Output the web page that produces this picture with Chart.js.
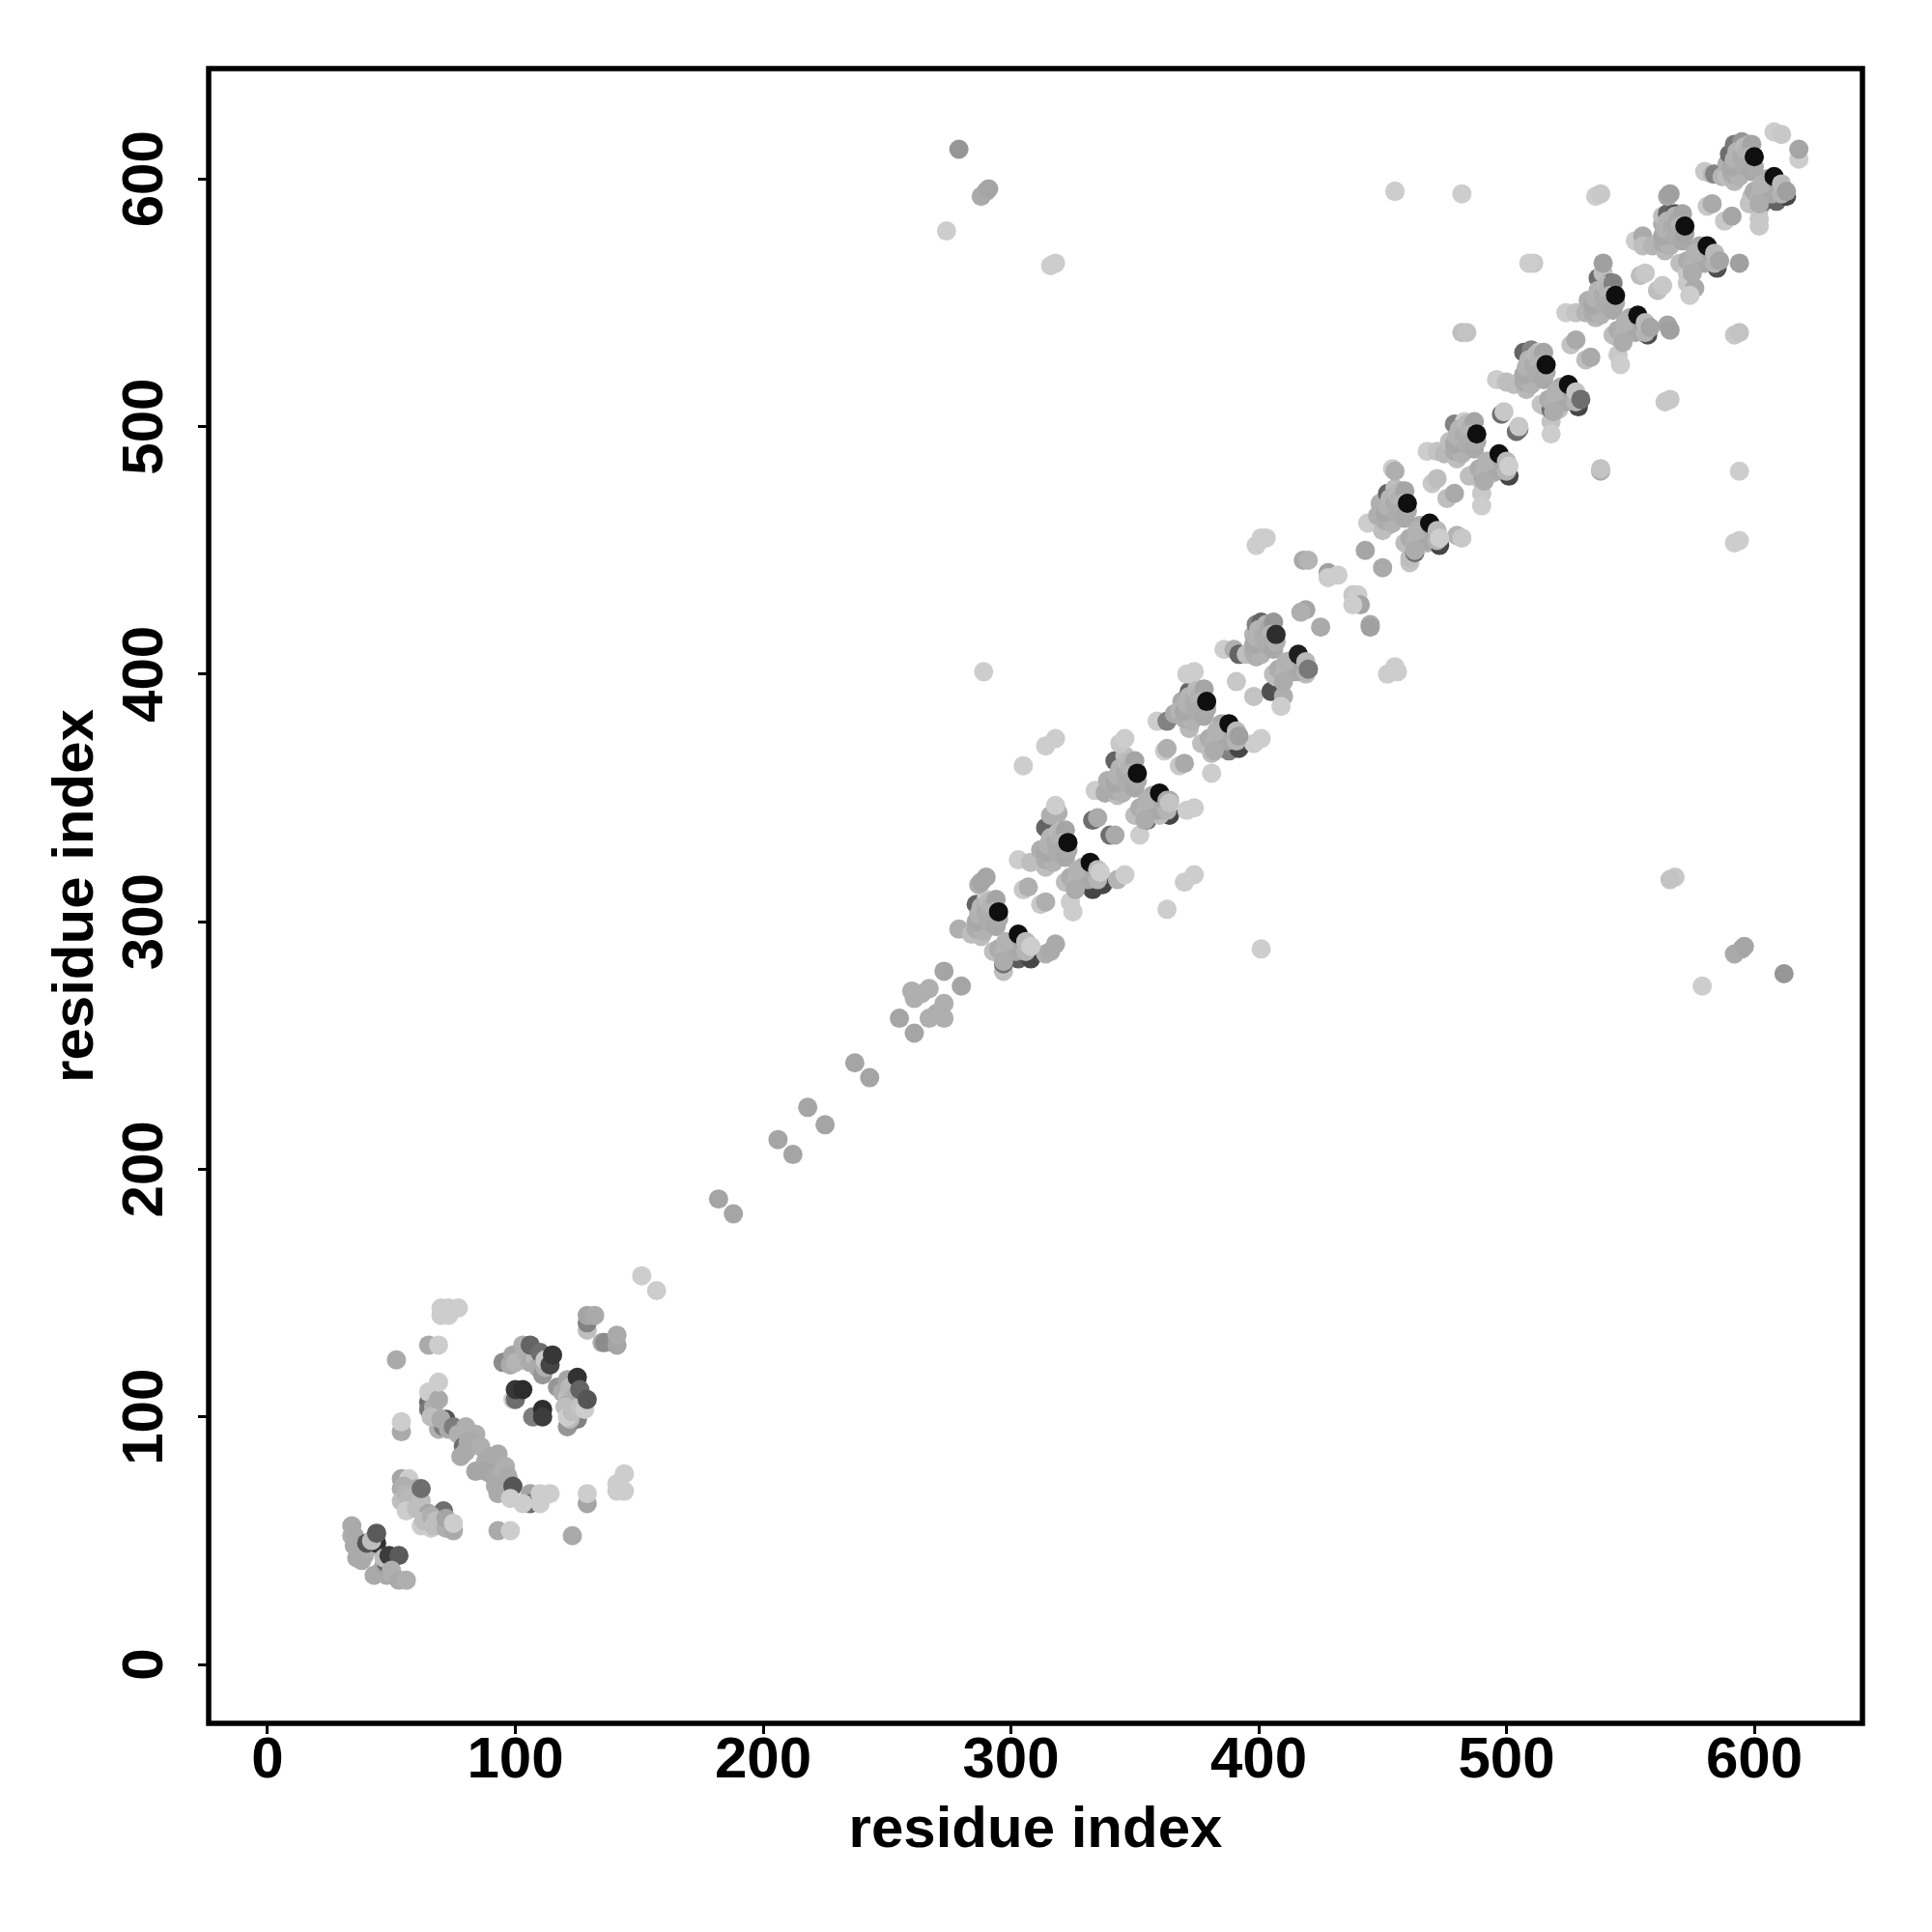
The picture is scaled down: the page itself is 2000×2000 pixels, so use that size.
<!DOCTYPE html>
<html><head><meta charset="utf-8">
<style>html,body{margin:0;padding:0;background:#fff}#w{width:2000px;height:2000px}canvas{display:block}</style>
<script src="https://cdn.jsdelivr.net/npm/chart.js@4"></script>
</head><body><div id="w"><canvas id="c" width="2000" height="2000"></canvas></div>
<script>
// Each contact: [residue x, residue y, grey level]
const xTickValues=[0,100,200,300,400,500,600];
const yTickValues=[0,100,200,300,400,500,600];
const axisTitle="residue index";

const contactsStart=[[34,56,170],[34,52,175],[35,52,170],[35,48,170],[36,43,170],[37,46,170],[39,44,170],[38,42,170],[41,47,175],[42,50,190],[40,49,85],[44,49,50],[42,50,190],[44,53,90],[43,36,170],[45,37,170],[48,36,170],[50,37,175],[47,40,165],[48,41,100],[47,43,190],[49,44,60],[53,44,90],[50,38,175],[53,34,170],[56,34,175]];
const contactsGroup60=[[54,75,165],[57,75,205],[54,71,170],[60,71,175],[55,72,175],[54,66,190],[58,65,85],[56,69,180],[57,67,185],[60,68,185],[62,66,190],[56,62,205],[60,63,190],[62,71,110],[65,58,80],[62,56,205],[66,55,205],[65,61,165],[63,58,190],[71,62,110],[66,60,175],[68,58,190],[70,56,185],[67,56,190],[72,55,175],[75,54,170],[72,59,165],[75,57,205],[93,54,170],[98,54,205],[54,94,170],[54,98,205],[65,129,170],[69,129,205],[52,123,170],[123,52,170]];
const contactsStrand80=[[65,106,110],[65,103,120],[65,110,205],[67,104,175],[69,107,170],[69,114,205],[69,95,175],[66,100,190],[71,96,125],[72,99,85],[70,99,170],[73,95,170],[75,96,125],[77,93,175],[80,96,175],[81,93,175],[84,93,175],[79,88,110],[81,90,170],[82,90,170],[80,86,170],[78,84,170],[86,88,175],[84,78,165],[88,82,170],[90,84,170],[93,85,170],[91,80,170],[96,80,175],[90,77,165],[88,78,165],[92,76,170],[93,69,170],[95,74,105],[95,78,175],[92,72,170],[97,76,170],[96,70,170],[99,72,85],[98,67,205],[106,69,165],[106,65,110],[103,65,205],[110,69,205],[114,69,205],[110,65,205]];
const contactsRing110=[[95,122,140],[98,121,170],[99,125,165],[103,129,175],[103,123,190],[100,122,180],[104,126,175],[106,122,170],[108,124,185],[109,120,170],[111,117,150],[112,120,175],[106,129,100],[110,126,110],[112,123,200],[114,121,70],[115,125,55],[117,112,150],[119,110,170],[121,115,165],[121,108,190],[121,105,170],[122,112,185],[124,108,175],[120,104,190],[121,96,150],[125,99,130],[122,99,185],[121,100,205],[123,102,190],[126,104,195],[125,116,50],[126,111,100],[128,103,205],[129,107,85],[99,107,205],[100,107,110],[100,111,55],[103,111,45],[108,100,205],[107,100,125],[111,103,45],[111,100,60]];
const contactsFar130=[[70,144,205],[73,144,205],[77,144,205],[70,141,205],[73,141,205],[129,135,190],[129,138,130],[129,141,165],[132,141,170],[135,130,170],[136,130,140],[141,129,165],[141,133,170],[129,65,165],[129,69,205],[144,77,205],[141,73,205],[144,70,205],[141,70,205],[151,157,205],[157,151,205]];
const contactsLinker=[[182,188,165],[188,182,165],[206,212,165],[212,206,165],[218,225,165],[225,218,165],[237,243,165],[243,237,165],[255,261,165],[261,255,165],[260,272,175],[264,271,175],[261,269,175],[267,273,175],[273,280,165],[280,274,165],[267,261,175],[270,263,175],[273,267,175],[273,261,175]];
const contactsRepeatJ=[[279,297,175],[284,295,190],[288,294,190],[286,307,100],[290,309,205],[293,308,165],[287,315,175],[290,318,165],[288,316,165],[293,288,190],[297,280,190],[297,283,110],[300,290,170],[303,285,90],[303,290,170],[308,285,70],[308,290,205],[314,287,175],[318,291,170],[316,288,170]];
const contactsRepeatI=[[303,325,205],[308,324,190],[314,322,190],[312,329,175],[314,338,100],[320,337,205],[316,332,190],[316,343,175],[319,344,175],[318,347,205],[305,313,200],[307,314,175],[312,307,200],[314,308,175],[322,316,190],[324,308,205],[325,304,205],[328,316,170],[329,322,170],[333,313,70],[337,315,70],[336,320,205],[343,317,180],[346,319,205]];
const contactsRepeatH=[[334,353,205],[338,352,170],[343,351,190],[339,357,175],[342,365,100],[346,367,190],[349,364,170],[344,361,190],[344,372,200],[346,374,205],[333,341,110],[335,342,170],[340,335,110],[342,335,170],[350,343,190],[352,335,205],[352,343,190],[355,341,110],[357,351,170],[364,343,70],[360,343,190],[364,349,170],[359,348,205],[371,345,205],[374,346,205]];
const contactsRepeatG1=[[305,363,205],[314,371,205],[318,374,205],[363,305,205],[370,316,205],[374,319,205],[359,381,205],[363,381,130],[366,384,170],[369,389,170],[372,393,100],[375,394,190],[377,392,170],[368,385,180],[372,378,185],[362,369,205],[363,370,175],[368,363,200],[370,364,170],[371,400,205],[374,401,205],[377,372,190],[381,368,190],[381,360,205],[384,370,170],[385,380,170],[388,369,130],[392,370,70],[392,374,150],[388,375,205],[398,372,205],[401,374,205]];
const contactsRepeatG2=[[386,410,205],[390,410,175],[392,408,100],[395,408,190],[399,407,175],[398,416,180],[399,420,130],[401,421,100],[403,417,90],[391,397,200],[398,391,195],[406,400,190],[405,393,80],[410,391,175],[409,387,205],[414,406,165],[416,404,40],[420,402,110],[419,400,190],[407,399,190],[419,426,165],[417,425,175],[425,419,170],[418,446,170],[420,446,180],[428,441,160],[428,439,205],[432,440,205],[438,432,200],[440,432,205],[441,428,165],[438,428,205],[445,420,170],[445,419,160],[452,400,205],[455,403,205],[456,401,205],[399,452,205],[401,455,205],[403,455,205],[289,401,205],[401,289,205]];
const contactsRepeatF=[[444,461,205],[448,464,175],[452,460,185],[450,458,190],[449,469,175],[452,473,100],[455,475,190],[458,474,175],[454,469,190],[443,450,165],[450,443,170],[454,483,205],[455,482,175],[470,477,200],[472,479,190],[476,471,190],[479,473,170],[459,453,190],[461,445,195],[461,447,190],[463,449,110],[465,460,170],[468,453,180],[473,452,70],[480,456,180],[482,455,200],[482,538,190],[484,538,195],[538,482,175]];
const contactsRepeatDE=[[468,490,205],[472,490,195],[475,489,185],[480,487,190],[477,494,190],[479,501,130],[483,502,205],[485,497,110],[498,505,110],[499,506,200],[504,498,110],[505,499,110],[505,500,200],[485,480,190],[487,481,190],[490,478,190],[490,473,200],[490,468,205],[493,486,170],[491,479,100],[494,481,190],[501,480,70],[496,519,205],[500,518,190],[503,517,190],[508,515,185],[507,521,190],[507,530,100],[510,531,130],[513,530,205],[511,526,175],[514,509,195],[516,508,195],[518,502,195],[518,497,205],[518,507,110],[522,516,170],[521,507,190],[529,508,70],[538,483,195],[511,566,200],[509,566,205],[564,510,200],[566,511,200],[568,318,200],[566,317,195]];
const contactsRepeatC=[[524,546,205],[528,546,195],[532,546,180],[536,544,185],[533,551,175],[537,560,110],[539,562,190],[542,558,110],[539,566,160],[526,533,195],[528,535,170],[532,527,190],[534,528,170],[543,537,190],[545,536,190],[545,529,200],[546,525,205],[550,544,170],[555,538,190],[557,537,80],[565,541,165],[566,539,160],[536,593,205],[538,594,200],[455,595,205],[482,594,205]];
const contactsRepeatB=[[552,575,205],[555,577,170],[555,573,190],[559,573,180],[564,571,185],[563,577,190],[563,582,170],[563,585,190],[565,586,100],[568,586,80],[570,584,180],[565,593,165],[566,594,160],[554,561,190],[556,562,200],[561,555,190],[563,557,200],[570,566,190],[573,562,200],[573,558,200],[576,556,170],[574,553,205],[578,573,170],[582,568,100],[585,564,80],[594,566,160],[592,537,200],[594,538,195]];
const contactsRepeatA=[[580,603,200],[583,602,185],[584,602,130],[587,601,180],[589,601,190],[592,599,185],[589,606,175],[590,610,110],[592,614,120],[595,615,150],[598,614,180],[594,610,90],[596,607,200],[608,619,205],[611,618,200],[618,608,205],[618,612,165],[581,589,200],[583,590,170],[588,583,200],[591,585,165],[599,593,190],[598,590,195],[602,588,190],[602,584,200],[602,581,200],[604,591,110],[609,591,100],[605,600,170],[613,593,70]];
const contactsOutliers=[[279,612,150],[274,579,205],[288,593,170],[290,595,170],[291,596,165],[318,566,205],[316,565,205],[455,595,205],[594,482,205],[594,454,205],[592,453,205],[592,287,170],[595,289,170],[596,290,165],[612,279,150],[579,274,205]];

const bodyUpperJ=[[286,297,172],[289,296,178],[286,300,168],[287,303,178],[288,306,180],[290,304,172],[291,308,185],[292,306,178],[294,309,165],[293,304,180],[291,300,172],[294,298,168]];
const bodyUpperI=[[314,325,172],[317,324,178],[314,328,168],[315,331,178],[316,334,180],[318,332,172],[319,336,185],[320,334,178],[322,337,165],[321,332,180],[319,328,172],[322,326,168]];
const bodyUpperH=[[342,353,172],[345,352,178],[342,356,168],[343,359,178],[344,362,180],[346,360,172],[347,364,185],[348,362,178],[350,365,165],[349,360,180],[347,356,172],[350,354,168]];
const bodyUpperG1=[[370,382,172],[373,381,178],[370,385,168],[371,388,178],[372,391,180],[374,389,172],[375,393,185],[376,391,178],[378,394,165],[377,389,180],[375,385,172],[378,383,168]];
const bodyUpperG2=[[398,409,172],[401,408,178],[398,412,168],[399,415,178],[400,418,180],[402,416,172],[403,420,178],[404,418,168],[406,421,150],[405,416,180],[403,412,172],[406,410,168]];
const bodyUpperF=[[451,462,172],[454,461,178],[451,465,168],[452,468,178],[453,471,180],[455,469,172],[456,473,185],[457,471,178],[459,474,165],[458,469,180],[456,465,172],[459,463,168]];
const bodyUpperD=[[479,490,172],[482,489,178],[479,493,168],[480,496,178],[481,499,180],[483,497,172],[484,501,185],[485,499,178],[487,502,165],[486,497,180],[484,493,172],[487,491,168]];
const bodyUpperE=[[507,518,172],[510,517,178],[507,521,168],[508,524,178],[509,527,180],[511,525,172],[512,529,185],[513,527,178],[515,530,165],[514,525,180],[512,521,172],[515,519,168]];
const bodyUpperC=[[535,546,172],[538,545,178],[535,549,168],[536,552,178],[537,555,180],[539,553,172],[540,557,185],[541,555,178],[543,558,130],[542,553,180],[540,549,172],[543,547,168]];
const bodyUpperB=[[563,574,172],[566,573,178],[563,577,168],[564,580,178],[565,583,180],[567,581,172],[568,585,178],[569,583,168],[571,586,165],[570,581,180],[568,577,172],[571,575,168]];
const bodyUpperA=[[591,602,172],[594,601,178],[591,605,168],[592,608,178],[593,611,180],[595,609,172],[596,613,185],[597,611,178],[599,614,165],[598,609,180],[596,605,172],[599,603,168]];

const bodyLowerJ=[[295,289,172],[297,287,178],[299,288,172],[301,290,178],[298,290,180],[302,288,168],[305,291,172],[306,288,180],[297,284,172],[298,292,178],[304,293,165]];
const bodyLowerI=[[324,318,172],[326,316,178],[328,317,172],[330,319,178],[327,319,180],[331,317,168],[334,320,172],[335,317,180],[326,313,172],[327,321,178],[333,322,165]];
const bodyLowerH=[[352,346,172],[354,344,178],[356,345,172],[358,347,178],[355,347,180],[359,345,168],[362,348,172],[363,345,180],[354,341,172],[355,349,178],[361,350,165]];
const bodyLowerG1=[[380,374,172],[382,372,178],[384,373,172],[386,375,178],[383,375,180],[387,373,168],[390,376,172],[391,373,180],[382,369,172],[383,377,178],[389,378,165]];
const bodyLowerG2=[[408,402,172],[410,400,178],[412,401,172],[414,403,178],[411,403,180],[415,401,168],[418,404,172],[419,401,180],[410,397,172],[411,405,178],[417,406,165]];
const bodyLowerF=[[461,455,172],[463,453,178],[465,454,172],[467,456,178],[464,456,180],[468,454,168],[471,457,172],[472,454,180],[463,450,172],[464,458,178],[470,459,165]];
const bodyLowerD=[[489,483,172],[491,481,178],[493,482,172],[495,484,178],[492,484,180],[496,482,168],[499,485,172],[500,482,180],[491,478,172],[492,486,178],[498,487,165]];
const bodyLowerE=[[517,511,172],[519,509,178],[521,510,172],[523,512,178],[520,512,180],[524,510,168],[527,513,172],[528,510,180],[519,506,172],[520,514,178],[526,515,165]];
const bodyLowerC=[[545,539,172],[547,537,178],[549,538,172],[551,540,178],[548,540,180],[552,538,168],[555,541,172],[556,538,180],[547,534,172],[548,542,178],[554,543,165]];
const bodyLowerB=[[573,567,172],[575,565,178],[577,566,172],[579,568,178],[576,568,180],[580,566,168],[583,569,172],[584,566,180],[575,562,172],[576,570,178],[582,571,165]];
const bodyLowerA=[[600,595,172],[602,593,178],[604,594,172],[606,596,178],[603,596,180],[607,594,168],[610,597,172],[611,594,180],[602,590,172],[603,598,178],[609,599,165]];

const contactsStrongest=[[295,301,170],[295,304,15],[303,295,15],[323,329,170],[323,332,15],[332,324,15],[351,357,170],[351,360,15],[360,352,15],[379,386,170],[379,389,15],[388,380,15],[407,413,175],[407,416,45],[416,408,30],[460,466,170],[460,469,15],[469,461,15],[488,494,170],[488,497,15],[497,489,15],[516,522,170],[516,525,15],[525,517,15],[544,550,170],[544,553,15],[553,545,15],[572,578,165],[572,581,15],[581,573,15],[600,605,170],[600,609,15],[608,601,15]];
const contactsOverStrongest=[[306,292,185],[308,290,205],[335,321,185],[336,320,205],[363,349,170],[364,348,195],[391,377,185],[392,375,160],[419,405,185],[420,402,120],[472,458,185],[473,455,205],[500,486,185],[501,484,205],[528,514,195],[530,511,110],[556,542,185],[558,540,165],[584,570,185],[586,567,165],[611,598,185],[613,595,160]];

// Listed back to front; Chart.js paints its first dataset on top, so the list is reversed below.
const contactGroups=[contactsStart,contactsGroup60,contactsStrand80,contactsRing110,contactsFar130,contactsLinker,contactsRepeatJ,contactsRepeatI,contactsRepeatH,contactsRepeatG1,contactsRepeatG2,contactsRepeatF,contactsRepeatDE,contactsRepeatC,contactsRepeatB,contactsRepeatA,contactsOutliers,bodyUpperJ,bodyUpperI,bodyUpperH,bodyUpperG1,bodyUpperG2,bodyUpperF,bodyUpperD,bodyUpperE,bodyUpperC,bodyUpperB,bodyUpperA,bodyLowerJ,bodyLowerI,bodyLowerH,bodyLowerG1,bodyLowerG2,bodyLowerF,bodyLowerD,bodyLowerE,bodyLowerC,bodyLowerB,bodyLowerA,contactsStrongest,contactsOverStrongest];

const font={family:"'Liberation Sans',Arial,sans-serif",size:60,weight:"bold"};
const frame={id:"frame",afterDatasetsDraw(ch){const a=ch.chartArea,c=ch.ctx;c.save();c.strokeStyle="#000";c.lineWidth=5.5;c.lineJoin="miter";c.strokeRect(a.left,a.top,a.right-a.left,a.bottom-a.top);c.restore();}};
const grid={display:true,drawOnChartArea:false,drawTicks:true,tickLength:11,tickWidth:3,tickColor:"#000"};
new Chart(document.getElementById("c"),{
  type:"scatter",
  data:{datasets:[...contactGroups].reverse().map((g,i)=>({
    label:"contacts "+i,
    data:g.map(p=>({x:p[0],y:p[1]})),
    pointRadius:10,pointHoverRadius:10,pointBorderWidth:0,
    pointBackgroundColor:g.map(p=>`rgb(${p[2]},${p[2]},${p[2]})`)
  }))},
  plugins:[frame],
  options:{
    responsive:false,animation:false,devicePixelRatio:1,
    layout:{padding:{top:71,right:72,left:0,bottom:0}},
    plugins:{legend:{display:false},tooltip:{enabled:false}},
    scales:{
      x:{type:"linear",min:-23.78,max:643.66,
        afterBuildTicks(s){s.ticks=xTickValues.map(v=>({value:v}));},
        afterFit(s){s.height=216;},
        grid,border:{display:false},
        ticks:{color:"#000",font,padding:-8,autoSkip:false,maxRotation:0,callback:v=>String(v)},
        title:{display:true,text:axisTitle,color:"#000",font,padding:{top:0,bottom:69}}},
      y:{type:"linear",min:-23.8,max:644.6,
        afterBuildTicks(s){s.ticks=yTickValues.map(v=>({value:v}));},
        afterFit(s){s.width=216;},
        grid,border:{display:false},
        ticks:{color:"#000",font,padding:3,autoSkip:false,minRotation:90,maxRotation:90,crossAlign:"center",callback:v=>String(v)},
        title:{display:true,text:axisTitle,color:"#000",font,padding:{top:43,bottom:0}}}
    }
  }
});
</script></body></html>
